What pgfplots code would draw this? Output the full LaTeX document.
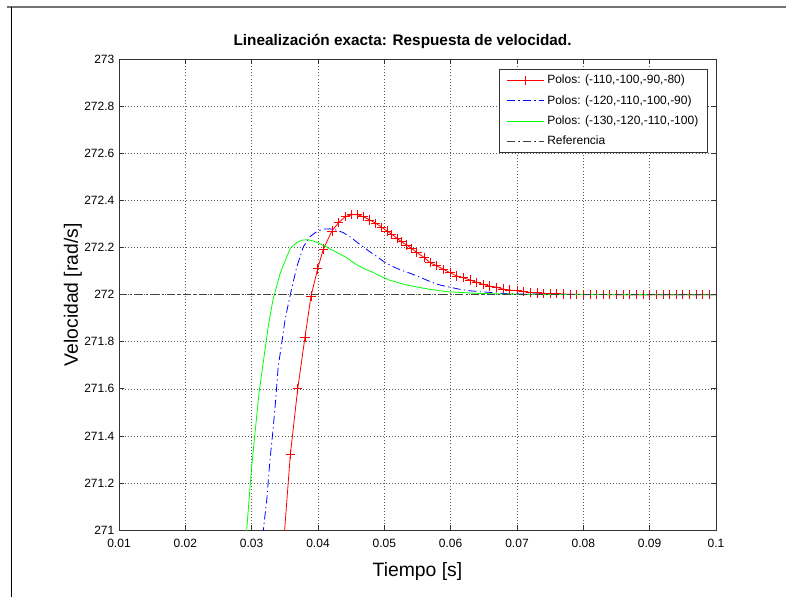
\documentclass[border=0pt]{standalone}
\usepackage{pgfplots}
\pgfplotsset{compat=1.18}
\usepackage{fontspec}
\setmainfont{Liberation Sans}
\begin{document}
\begin{tikzpicture}
\useasboundingbox (0,0) rectangle (589.5pt,-447.75pt);
\fill[white] (0,0) rectangle (589.5pt,-447.75pt);
\draw[black!55, line width=1.5pt] (5pt,-5.6pt) -- (589.5pt,-5.6pt);
\draw[black, line width=0.8pt] (8.4pt,-5pt) -- (8.4pt,-447.75pt);
\begin{axis}[
  at={(89.25pt,-397.5pt)}, anchor=south west,
  scale only axis, width=447.75pt, height=352.9pt,
  xmin=0.01, xmax=0.1, ymin=271, ymax=273,
  xtick={0.01,0.02,...,0.1}, ytick={271,271.2,...,273},
  scaled x ticks=false, scaled y ticks=false,
  xticklabels={0.01,0.02,0.03,0.04,0.05,0.06,0.07,0.08,0.09,0.1},
  yticklabels={271,271.2,271.4,271.6,271.8,272,272.2,272.4,272.6,272.8,273},
  tick align=inside, tick pos=both, major tick length=3.75pt,
  tick style={black!80, line width=0.6pt},
  axis line style={black!80, line width=0.6pt},
  grid=major, major grid style={black!65, line width=0.5pt, dash pattern=on 0.5pt off 1.8pt},
  ticklabel style={font=\fontsize{9}{10}\selectfont},
  xticklabel style={yshift=-3.5pt},
  title={\textbf{Linealización exacta: Respuesta de velocidad.}},
  title style={font=\fontsize{11.5}{13}\selectfont, at={(axis description cs:0.475,1.0117)}, anchor=base},
  xlabel={Tiempo [s]},
  xlabel style={font=\fontsize{14.5}{16}\selectfont, at={(axis description cs:0.5,-0.0978)}, anchor=base},
  ylabel={Velocidad [rad/s]},
  ylabel style={font=\fontsize{14.5}{16}\selectfont, at={(axis description cs:-0.0687,0.5)}, anchor=base, rotate=0},
  clip marker paths=true,
  legend cell align=left,
  legend style={at={(axis description cs:0.9866,0.98)}, anchor=north east,
    font=\fontsize{9}{10}\selectfont, draw=black!80, line width=0.6pt, row sep=3.1pt, inner xsep=5pt, inner ysep=2.5pt},
  legend image code/.code={\draw[mark repeat=2, mark phase=2, #1] plot coordinates {(0pt,0pt) (14pt,0pt) (28pt,0pt)};},
]
% red
\addplot[red, line width=0.6pt, mark=+, mark size=3.5pt, mark options={solid, line width=0.6pt}] coordinates {
(0.0347,270.9) (0.03583,271.32) (0.03694,271.60) (0.03804,271.82) (0.03895,271.995)
(0.03995,272.11) (0.0408,272.194) (0.0421,272.271) (0.0431,272.306) (0.0441,272.332)
(0.0451,272.340) (0.0460,272.340) (0.0468,272.332) (0.0478,272.318) (0.0487,272.304)
(0.0496,272.287) (0.0504,272.271) (0.0511,272.257) (0.0519,272.240) (0.0526,272.225)
(0.0534,272.211) (0.0541,272.197) (0.0549,272.180) (0.0560,272.158) (0.0569,272.136)
(0.0579,272.123) (0.0589,272.108) (0.0599,272.094) (0.0609,272.080) (0.0619,272.072)
(0.0629,272.063) (0.0639,272.053) (0.0649,272.044) (0.0659,272.037) (0.0669,272.032)
(0.0679,272.024) (0.0689,272.020) (0.0700,272.017) (0.0710,272.013) (0.0720,272.010)
(0.0730,272.008) (0.074,272.006) (0.075,272.005) (0.076,272.004) (0.077,272.003)
(0.078,272.002) (0.079,272.002) (0.080,272.001) (0.081,272.001) (0.082,272.001)
(0.083,272.001) (0.084,272.000) (0.085,272.000) (0.086,272.000) (0.087,272.000)
(0.088,272.000) (0.089,272.000) (0.090,272.000) (0.091,272.000) (0.092,272.000)
(0.093,272.000) (0.094,272.000) (0.095,272.000) (0.096,272.000) (0.097,272.000)
(0.098,272.000) (0.099,272.000) (0.100,272.000)
};
\addlegendentry{Polos: (-110,-100,-90,-80)}
% blue
\addplot[blue, line width=0.6pt, dash pattern=on 6pt off 2.5pt on 1pt off 2.5pt] coordinates {
(0.0315,270.91) (0.03176,271.0) (0.03227,271.127) (0.03276,271.298) (0.03317,271.411)
(0.03362,271.553) (0.0340,271.694) (0.03453,271.794) (0.03503,271.893) (0.0357,271.985)
(0.0368,272.119) (0.0378,272.204) (0.0388,272.247) (0.0398,272.268) (0.0408,272.279)
(0.0418,272.280) (0.0428,272.275) (0.0438,272.264) (0.0448,272.247) (0.0458,272.225)
(0.0468,272.204) (0.0478,272.183) (0.0489,272.162) (0.0498,272.143) (0.0508,272.126)
(0.0519,272.112) (0.0529,272.101) (0.0539,272.091) (0.0554,272.074) (0.0569,272.056)
(0.0584,272.041) (0.0599,272.032) (0.0614,272.023) (0.0629,272.017) (0.0644,272.013)
(0.0659,272.010) (0.0674,272.006) (0.0689,272.004) (0.0720,272.003) (0.078,272.001)
(0.1,272.0)
};
\addlegendentry{Polos: (-120,-110,-100,-90)}
% green
\addplot[green, line width=0.6pt] coordinates {
(0.0290,270.91) (0.02925,271.0) (0.0300,271.269) (0.0305,271.411) (0.0311,271.581)
(0.0318,271.723) (0.0325,271.864) (0.0332,271.978) (0.0343,272.091) (0.0358,272.197)
(0.0368,272.222) (0.0376,272.232) (0.0384,272.234) (0.0392,272.229) (0.0400,272.221)
(0.0413,272.203) (0.0428,272.180) (0.0443,272.158) (0.0458,272.128) (0.0470,272.110)
(0.0483,272.095) (0.0495,272.078) (0.0508,272.062) (0.0520,272.052) (0.0534,272.041)
(0.0551,272.032) (0.0569,272.023) (0.0594,272.013) (0.0619,272.009) (0.0639,272.006)
(0.068,272.003) (0.075,272.001) (0.1,272.0)
};
\addlegendentry{Polos: (-130,-120,-110,-100)}
% reference
\addplot[black!75, line width=0.6pt, dash pattern=on 6pt off 2.5pt on 1pt off 2.5pt] coordinates {(0.01,272) (0.1,272)};
\addlegendentry{Referencia}
\end{axis}
\end{tikzpicture}
\end{document}
